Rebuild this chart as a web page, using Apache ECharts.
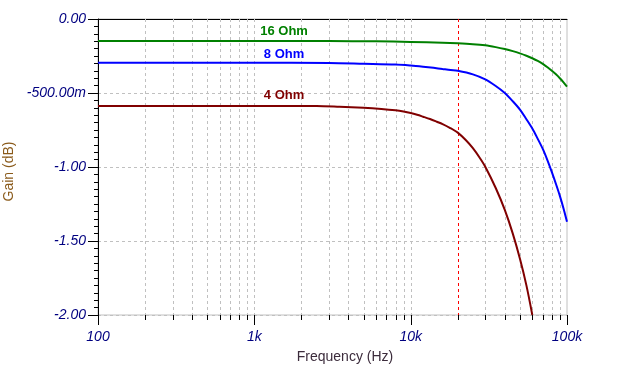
<!DOCTYPE html>
<html>
<head>
<meta charset="utf-8">
<script src="https://cdn.jsdelivr.net/npm/echarts@6/dist/echarts.min.js"></script>
<style>
html,body{margin:0;padding:0;background:#fff;}
#chart{width:620px;height:384px;}
</style>
</head>
<body>
<div id="chart"></div>
<script>
// ---- data ----
const seriesNames = ['16 Ohm', '8 Ohm', '4 Ohm'];

const ohm16 = [
  [100, -0.149], [1000, -0.149], [3000, -0.149], [6000, -0.151], [10000, -0.155],
  [16000, -0.160], [20000, -0.164], [25000, -0.170], [30000, -0.178], [35000, -0.190],
  [40000, -0.203], [45000, -0.217], [50000, -0.232], [55000, -0.248], [60000, -0.265],
  [65000, -0.283], [70000, -0.303], [75000, -0.326], [80000, -0.350], [85000, -0.374],
  [90000, -0.400], [95000, -0.428], [100000, -0.457]
];

const ohm8 = [
  [100, -0.295], [1000, -0.295], [3000, -0.297], [5000, -0.302], [8000, -0.307],
  [10000, -0.314], [12000, -0.322], [14000, -0.330], [16000, -0.338], [18000, -0.345],
  [20000, -0.350], [25000, -0.374], [30000, -0.408], [35000, -0.453], [40000, -0.500],
  [45000, -0.556], [50000, -0.612], [55000, -0.677], [60000, -0.740], [65000, -0.810],
  [70000, -0.878], [75000, -0.955], [80000, -1.035], [85000, -1.115], [90000, -1.195],
  [95000, -1.280], [100000, -1.370]
];

const ohm4 = [
  [100, -0.588], [1000, -0.588], [2500, -0.588], [3500, -0.593], [5000, -0.600],
  [6500, -0.608], [8000, -0.617], [9000, -0.625], [10000, -0.635], [11000, -0.647],
  [12000, -0.660], [13300, -0.676], [14700, -0.694], [16000, -0.710], [17800, -0.735],
  [20000, -0.768], [22500, -0.818], [25000, -0.873], [27500, -0.934], [30000, -0.998],
  [35000, -1.142], [40000, -1.290], [45000, -1.450], [50000, -1.620], [55000, -1.800],
  [60000, -2.000]
];

const markerFreqs = [20000];
const labelFreq = 1550;

const xTicks = [100, 1000, 10000, 100000];
const xTickLabels = ['100', '1k', '10k', '100k'];
const yTicks = [0, -0.5, -1, -1.5, -2];
const yTickLabels = ['0.00', '-500.00m', '-1.00', '-1.50', '-2.00'];

const xGridFreqs = [
  200, 300, 400, 500, 600, 700, 800, 900, 1000,
  2000, 3000, 4000, 5000, 6000, 7000, 8000, 9000, 10000,
  20000, 30000, 40000, 50000, 60000, 70000, 80000, 90000
];
const xMinorFreqs = [
  200, 300, 400, 500, 600, 700, 800, 900,
  2000, 3000, 4000, 5000, 6000, 7000, 8000, 9000,
  20000, 30000, 40000, 50000, 60000, 70000, 80000, 90000
];

// ---- chart ----
const chart = echarts.init(document.getElementById('chart'), null, {renderer: 'canvas'});
const FONT = 'Liberation Sans, Arial, sans-serif';
const labelFont = {fontFamily: FONT, fontSize: 14, fontStyle: 'italic', color: '#000080'};
const yMin = yTicks[yTicks.length - 1], yMax = yTicks[0];

function curve(name, data, color, labelOffset) {
  return {
    name: name,
    type: 'line',
    data: data,
    smooth: 0.3,
    showSymbol: false,
    symbol: 'none',
    lineStyle: {color: color, width: 2},
    itemStyle: {color: color},
    z: 5,
    silent: true,
    markPoint: {
      silent: true,
      symbol: 'rect',
      symbolSize: 0,
      data: [{coord: [labelFreq, data[0][1]]}],
      label: {
        show: true,
        formatter: name,
        position: 'inside',
        offset: labelOffset,
        color: color,
        fontFamily: FONT,
        fontWeight: 'bold',
        fontSize: 13
      }
    }
  };
}

function vLines(name, freqs, color, z) {
  return {
    type: 'custom',
    name: name,
    silent: true,
    z: z,
    data: freqs.map(function (f) { return [f, yMin]; }),
    renderItem: function (params, api) {
      const top = api.coord([api.value(0), yMax]);
      const bot = api.coord([api.value(0), yMin]);
      const x = Math.round(top[0]) + 0.5;
      return {type: 'line', shape: {x1: x, y1: top[1], x2: x, y2: bot[1]},
        style: {stroke: color, lineWidth: 1, lineDash: [3, 3]}};
    }
  };
}

function xTickMarks(name, freqs, len) {
  return {
    type: 'custom',
    name: name,
    silent: true,
    clip: false,
    z: 6,
    data: freqs.map(function (f) { return [f, yMin]; }),
    renderItem: function (params, api) {
      const p = api.coord([api.value(0), yMin]);
      const x = Math.round(p[0]) + 0.5;
      return {type: 'line', shape: {x1: x, y1: p[1], x2: x, y2: p[1] + len},
        style: {stroke: '#000', lineWidth: 1}};
    }
  };
}

const option = {
  animation: false,
  backgroundColor: '#ffffff',
  grid: {left: 98, right: 53, top: 19, bottom: 69, show: true, borderColor: '#c0c0c0', borderWidth: 1,
    backgroundColor: 'transparent', containLabel: false, outerBoundsMode: 'none'},
  xAxis: {
    type: 'log',
    logBase: 10,
    min: xTicks[0],
    max: xTicks[xTicks.length - 1],
    name: 'Frequency (Hz)',
    nameLocation: 'middle',
    nameGap: 35,
    nameTextStyle: {fontFamily: FONT, fontSize: 14, color: '#3c2c3c', padding: [0, 0, 0, 25]},
    axisLine: {show: true, lineStyle: {color: '#000', width: 1}},
    axisTick: {show: false},
    minorTick: {show: false},
    splitLine: {show: false},
    axisLabel: Object.assign({margin: 15, formatter: function (v) {
      const i = xTicks.indexOf(Math.round(v));
      return i >= 0 ? xTickLabels[i] : '';
    }}, labelFont)
  },
  yAxis: {
    type: 'value',
    min: yMin,
    max: yMax,
    interval: 0.5,
    name: 'Gain (dB)',
    nameLocation: 'middle',
    nameGap: 78,
    nameTextStyle: {fontFamily: FONT, fontSize: 14, color: '#8a5a1a', padding: [0, 9, 0, 0]},
    axisLine: {show: true, lineStyle: {color: '#000', width: 1}},
    axisTick: {show: true, length: 10, lineStyle: {color: '#000'}},
    minorTick: {show: true, splitNumber: 10, length: 4, lineStyle: {color: '#000'}},
    splitLine: {show: true, lineStyle: {color: '#c0c0c0', type: [3, 3], width: 1}},
    axisLabel: Object.assign({margin: 12, formatter: function (v) {
      let best = 0;
      yTicks.forEach(function (t, i) { if (Math.abs(t - v) < Math.abs(yTicks[best] - v)) best = i; });
      return yTickLabels[best];
    }}, labelFont)
  },
  series: [
    vLines('xgrid', xGridFreqs, '#c0c0c0', 1),
    vLines('marker', markerFreqs, '#ff0000', 2),
    xTickMarks('xminor', xMinorFreqs, 5),
    xTickMarks('xmajor', xTicks, 10),
    curve(seriesNames[2], ohm4, '#800000', [0, -11]),
    curve(seriesNames[1], ohm8, '#0000ff', [0, -8]),
    curve(seriesNames[0], ohm16, '#008000', [0, -10])
  ]
};
chart.setOption(option);
</script>
</body>
</html>
